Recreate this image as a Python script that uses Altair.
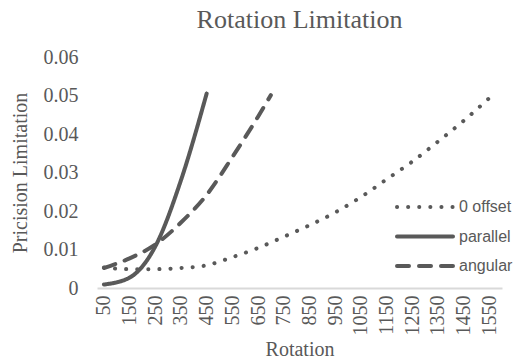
import altair as alt
import pandas as pd

# ---- data ----
series_names = ["0 offset", "parallel", "angular"]

rot_offset = [50, 150, 250, 350, 450, 550, 650, 750, 850, 950, 1050, 1150, 1250, 1350, 1450, 1550]
val_offset = [0.0053, 0.0049, 0.0049, 0.0052, 0.0059, 0.0080, 0.0104, 0.0133, 0.0163, 0.0196,
              0.0236, 0.0282, 0.0328, 0.0380, 0.0434, 0.0493]

rot_parallel = [50, 150, 250, 350, 450]
val_parallel = [0.0009, 0.0027, 0.0108, 0.0280, 0.0505]

rot_angular = [50, 150, 250, 350, 450, 550, 650, 700]
val_angular = [0.0052, 0.0077, 0.0113, 0.0170, 0.0242, 0.0340, 0.0445, 0.0501]

x_ticks = [50, 150, 250, 350, 450, 550, 650, 750, 850, 950, 1050, 1150, 1250, 1350, 1450, 1550]
y_ticks = [0, 0.01, 0.02, 0.03, 0.04, 0.05, 0.06]

rows = []
for name, xs, ys in [("0 offset", rot_offset, val_offset),
                     ("parallel", rot_parallel, val_parallel),
                     ("angular", rot_angular, val_angular)]:
    for i, (xv, yv) in enumerate(zip(xs, ys)):
        rows.append({"series": name, "rotation": xv, "value": yv, "order": i})
df = pd.DataFrame(rows)
legend_df = pd.DataFrame({"series": series_names})

GREY = "#595959"
SERIF = "Liberation Serif, Times New Roman, serif"
SANS = "Liberation Sans Narrow, Arial Narrow, Liberation Sans, sans-serif"

dash_scale = alt.Scale(domain=series_names, range=[[0.1, 11], [1, 0], [12, 10]])

lines = alt.Chart(df).mark_line(
    color=GREY, strokeWidth=4, strokeCap="round", strokeJoin="round", interpolate="monotone"
).encode(
    x=alt.X("rotation:Q",
            scale=alt.Scale(domain=[23, 1600], nice=False, zero=False),
            axis=alt.Axis(values=x_ticks, format="d", title="Rotation", labelAngle=270,
                          labelAlign="right", labelBaseline="middle", labelPadding=7,
                          labelFlush=False, labelOverlap=False, labelBound=False,
                          ticks=False, grid=False, domainColor="#d9d9d9", domainWidth=2,
                          labelFont=SERIF, labelFontSize=20, labelColor=GREY,
                          titleFont=SERIF, titleFontSize=20, titleColor=GREY,
                          titleFontWeight="normal", titleY=61, titleBaseline="middle")),
    y=alt.Y("value:Q",
            scale=alt.Scale(domain=[0, 0.06], nice=False),
            axis=alt.Axis(values=y_ticks, format="~g", title="Pricision Limitation",
                          domain=False, ticks=False, grid=False, labelPadding=19,
                          labelFont=SERIF, labelFontSize=20, labelColor=GREY,
                          titleFont=SERIF, titleFontSize=20, titleColor=GREY,
                          titleFontWeight="normal", titleAngle=270, titleX=-77, titleY=115.5,
                          titleAlign="center", titleBaseline="middle")),
    strokeDash=alt.StrokeDash("series:N", scale=dash_scale, legend=None),
    detail="series:N",
    order="order:Q",
)

leg_y = alt.Y("series:N", sort=series_names,
              scale=alt.Scale(type="point", range=[150, 209], padding=0), axis=None)

legend_rules = alt.Chart(legend_df).mark_rule(
    color=GREY, strokeWidth=4, strokeCap="round"
).encode(
    x=alt.value(300), x2=alt.value(356), y=leg_y,
    strokeDash=alt.StrokeDash("series:N", scale=dash_scale, legend=None),
)

legend_text = alt.Chart(legend_df).mark_text(
    align="left", baseline="middle", font=SANS, fontSize=16, color=GREY
).encode(
    x=alt.value(362), y=leg_y, text="series:N"
)

chart = alt.layer(lines, legend_rules, legend_text).resolve_scale(
    y="independent"
).properties(
    width=405, height=231,
    autosize=alt.AutoSizeParams(type="none"),
    padding={"left": 97, "top": 57, "right": 24, "bottom": 72},
    background="white",
    title=alt.TitleParams("Rotation Limitation", font=SERIF, fontSize=26, fontWeight="normal",
                          color=GREY, anchor="middle", offset=14),
).configure_view(stroke=None)

chart.save("out.html", embed_options={"renderer": "svg", "actions": False})
